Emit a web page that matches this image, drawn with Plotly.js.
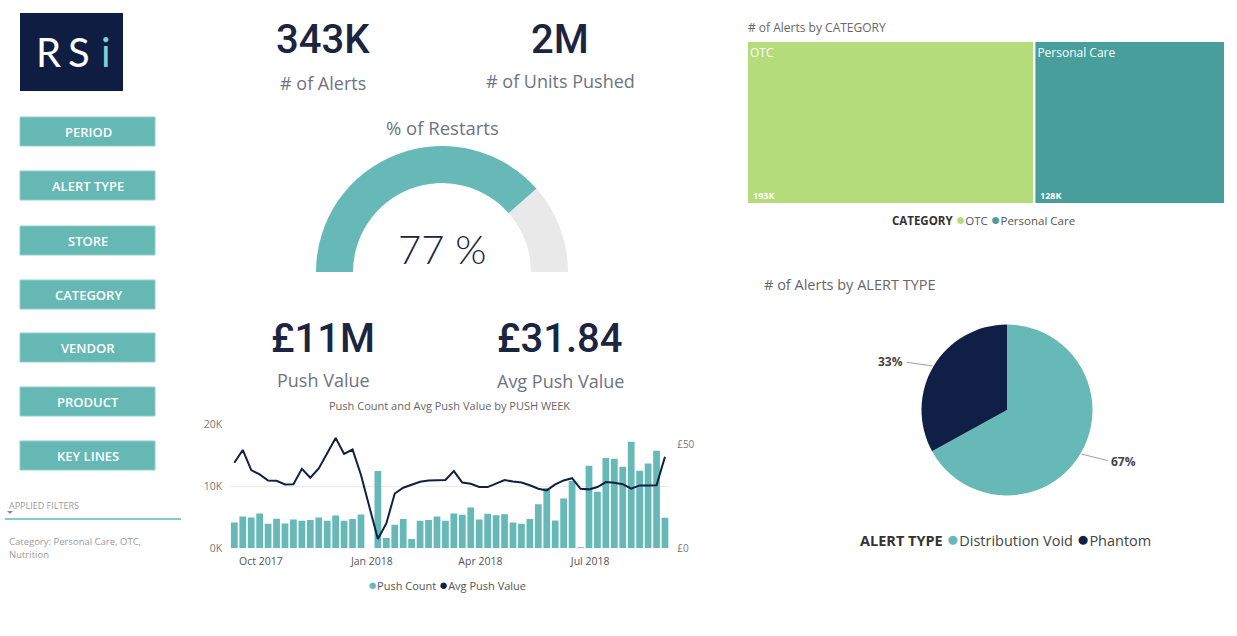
<!DOCTYPE html>
<html><head><meta charset="utf-8">
<script src="https://cdn.plot.ly/plotly-3.0.1.min.js"></script>
<style>html,body{margin:0;padding:0;background:#fff;}#chart{width:1237px;height:636px;}</style>
</head><body><div id="chart"></div>
<script>
// ---------- DATA ----------
const weeks = ['2017-09-09','2017-09-16','2017-09-23','2017-09-30','2017-10-07','2017-10-14','2017-10-21','2017-10-28',
 '2017-11-04','2017-11-11','2017-11-18','2017-11-25','2017-12-02','2017-12-09','2017-12-16','2017-12-23','2017-12-30',
 '2018-01-06','2018-01-13','2018-01-20','2018-01-27','2018-02-03','2018-02-10','2018-02-17','2018-02-24',
 '2018-03-03','2018-03-10','2018-03-17','2018-03-24','2018-03-31','2018-04-07','2018-04-14','2018-04-21','2018-04-28',
 '2018-05-05','2018-05-12','2018-05-19','2018-05-26','2018-06-02','2018-06-09','2018-06-16','2018-06-23','2018-06-30',
 '2018-07-07','2018-07-14','2018-07-21','2018-07-28','2018-08-04','2018-08-11','2018-08-18','2018-08-25','2018-09-01'];
const pushCount = [4170,5130,4970,5610,3960,4760,4010,4650,4440,4550,4970,4440,5290,4440,4710,5450,0,12460,1660,3800,
 4710,1500,4440,4550,5130,4440,5610,5400,6580,4650,5560,5350,5510,4170,3960,4710,7110,9730,4490,8020,
 10860,160,13320,9140,14550,14440,13160,17170,12510,13690,15720,4920];
const avgPushValue = [41.2,47.4,37.7,35.6,32.7,32.5,30.8,30.9,38.3,34.0,38.5,45.7,53.2,45.5,47.6,35.3,null,4.5,12.0,26.4,
 29.2,30.6,32.1,32.7,32.7,32.9,37.2,31.7,31.1,29.6,29.5,31.1,32.9,32.2,31.7,30.4,28.7,27.9,30.8,32.7,
 33.8,28.7,28.4,29.5,31.9,31.6,30.9,28.7,30.3,30.3,30.4,44.1];
const xTickVals = ['2017-10-01','2018-01-01','2018-04-01','2018-07-01'];
const xTickText = ['Oct 2017','Jan 2018','Apr 2018','Jul 2018'];
const yTickVals = [0,10000,20000];
const yTickText = ['0K','10K','20K'];
const y2TickVals = [0,50];
const y2TickText = ['£0','£50'];

const categories = ['OTC','Personal Care'];
const categoryAlerts = [193000,128000];
const categoryLabels = ['193K','128K'];

const alertTypes = ['Distribution Void','Phantom'];
const alertTypeShare = [67,33];

const restartPct = 77;
const kpiValues = ['343K','2M','£11M','£31.84'];
const kpiLabels = ['# of Alerts','# of Units Pushed','Push Value','Avg Push Value'];
const buttons = ['PERIOD','ALERT TYPE','STORE','CATEGORY','VENDOR','PRODUCT','KEY LINES'];
const filterText = ['Category: Personal Care, OTC,','Nutrition'];

// ---------- HELPERS ----------
const W = 1237, H = 636;
const X = p => p / W;
const Y = p => 1 - p / H;
const TEAL = '#66b9b6', NAVY = '#0f1f45', GREEN = '#b5dc7a', PC = '#479e9b';
const SANS = 'Open Sans, Noto Sans, sans-serif';
const KPI = 'Roboto, sans-serif';

const annotations = [];
const shapes = [];
function txt(text, x, y, size, color, opts) {
  annotations.push(Object.assign({
    text: text, x: X(x), y: Y(y), xref: 'paper', yref: 'paper', showarrow: false,
    xanchor: 'center', yanchor: 'middle', font: {size: size, color: color, family: SANS}
  }, opts || {}));
}
function rect(x0, y0, x1, y1, fill, line) {
  shapes.push({type: 'rect', xref: 'paper', yref: 'paper', x0: X(x0), x1: X(x1), y0: Y(y1), y1: Y(y0),
    fillcolor: fill, line: line || {width: 0}, layer: 'below'});
}

// Logo
rect(20, 13, 123, 91, '#0f1d42');
const logoFont = (c) => ({size: 40, color: c, family: 'Lato, sans-serif', weight: 400});
txt('R', 48, 52, 40, '#fff', {font: logoFont('#ffffff')});
txt('S', 79, 52, 40, '#fff', {font: logoFont('#ffffff')});
txt('i', 106, 52, 40, '#7fd0cf', {font: logoFont('#7fd0cf')});

// Buttons
const btnTops = [117, 171, 226, 280, 333, 387, 441];
buttons.forEach((b, i) => {
  rect(20, btnTops[i], 155, btnTops[i] + 29, '#66b8b5', {width: 1, color: '#8fcfcc'});
  txt(b, 88, btnTops[i] + 14.5, 13, '#ffffff', {font: {size: 13, color: '#ffffff', family: SANS, weight: 600}});
});

// Applied filters
txt('APPLIED FILTERS', 7, 505, 9, '#9a9a9a', {xanchor: 'left'});
shapes.push({type: 'path', xref: 'paper', yref: 'paper',
  path: 'M ' + X(7) + ' ' + Y(511) + ' L ' + X(13) + ' ' + Y(511) + ' L ' + X(10) + ' ' + Y(514) + ' Z',
  fillcolor: '#8a8a8a', line: {width: 0}});
shapes.push({type: 'line', xref: 'paper', yref: 'paper', x0: X(5), x1: X(181), y0: Y(519), y1: Y(519), line: {color: '#86cbc7', width: 2}});
txt(filterText[0], 7, 541, 9.5, '#9a9a9a', {xanchor: 'left'});
txt(filterText[1], 7, 554, 9.5, '#9a9a9a', {xanchor: 'left'});

// KPI cards
const kpiPos = [[323, 40, 83], [560, 40, 81], [323, 338, 380], [560, 338, 381]];
kpiValues.forEach((v, i) => {
  txt(v, kpiPos[i][0], kpiPos[i][1], 40, '#1b2440', {font: {size: 40, color: '#1b2440', family: KPI, weight: 500}});
  txt(kpiLabels[i], kpiPos[i][0], kpiPos[i][2], 18, '#6f7382');
});
txt('% of Restarts', 442, 128, 18.5, '#6f7382');
txt(restartPct + ' %', 442, 249, 40, '#1b2440', {font: {size: 40, color: '#1b2440', family: 'Lato, sans-serif', weight: 300}});

// Combo chart title and legend
txt('Push Count and Avg Push Value by PUSH WEEK', 449, 405, 11, '#666666');
txt('<span style="color:' + TEAL + ';font-size:15px">●</span>Push Count <span style="color:' + NAVY + ';font-size:15px">●</span>Avg Push Value', 447, 584, 11, '#555555');

// Treemap title / legend
txt('# of Alerts by CATEGORY', 746, 28, 12, '#666666', {xanchor: 'left'});
txt('<b style="color:#333">CATEGORY</b> <span style="color:' + GREEN + ';font-size:16px">●</span>' + categories[0] +
    ' <span style="color:' + PC + ';font-size:16px">●</span>' + categories[1], 983, 219, 11.5, '#555555');

// Pie title / legend
txt('# of Alerts by ALERT TYPE', 762, 284, 14.5, '#666666', {xanchor: 'left'});
txt('<b style="color:#333">ALERT TYPE</b> <span style="color:' + TEAL + ';font-size:21px">●</span>' + alertTypes[0] +
    ' <span style="color:' + NAVY + ';font-size:21px">●</span>' + alertTypes[1], 1005, 538, 14.5, '#444444');

// ---------- TRACES ----------
const traces = [];
// combo chart
traces.push({type: 'bar', x: weeks, y: pushCount, name: 'Push Count', marker: {color: TEAL}, xaxis: 'x', yaxis: 'y'});
traces.push({type: 'scatter', mode: 'lines', x: weeks, y: avgPushValue, name: 'Avg Push Value', connectgaps: true,
  line: {color: NAVY, width: 2}, xaxis: 'x', yaxis: 'y2'});

// gauge (half donut)
traces.push({type: 'pie', values: [restartPct, 100 - restartPct, 100], sort: false, direction: 'clockwise', rotation: -90,
  hole: 0.706, marker: {colors: [TEAL, '#e9e9e9', 'rgba(0,0,0,0)'], line: {width: 0}}, textinfo: 'none', hoverinfo: 'skip',
  domain: {x: [X(316), X(568)], y: [Y(398), Y(146)]}});

// treemap
const tmX0 = 747, tmX1 = 1225, tmY0 = 41, tmY1 = 204;
traces.push({type: 'treemap', labels: categories, parents: ['', ''], values: categoryAlerts,
  marker: {colors: [GREEN, PC], line: {color: '#ffffff', width: 2}, pad: {t: 0, l: 0, r: 0, b: 0}},
  tiling: {packing: 'dice', pad: 0}, pathbar: {visible: false},
  texttemplate: '%{label}', textposition: 'top left', textfont: {color: '#ffffff', size: 12, family: SANS},
  hoverinfo: 'skip', domain: {x: [X(tmX0), X(tmX1)], y: [Y(tmY1), Y(tmY0)]}});
// treemap value labels computed from data
const totalAlerts = categoryAlerts.reduce((a, b) => a + b, 0);
let acc = 0;
categoryAlerts.forEach((v, i) => {
  const x0 = tmX0 + (tmX1 - tmX0) * acc / totalAlerts;
  txt('<b>' + categoryLabels[i] + '</b>', x0 + 4, tmY1 - 8, 9, '#ffffff', {xanchor: 'left'});
  acc += v;
});

// pie
const pcx = 1007, pcy = 410, pr = 85.5;
traces.push({type: 'pie', labels: alertTypes, values: alertTypeShare, sort: false, direction: 'clockwise', rotation: 0,
  marker: {colors: [TEAL, NAVY], line: {width: 0}}, textinfo: 'none', hoverinfo: 'skip',
  domain: {x: [X(pcx - pr), X(pcx + pr)], y: [Y(pcy + pr), Y(pcy - pr)]}});
// outside labels with leader lines, positioned from slice mid angles
const shareTotal = alertTypeShare.reduce((a, b) => a + b, 0);
let cum = 0;
alertTypeShare.forEach((v, i) => {
  const mid = (cum + v / 2) / shareTotal * 2 * Math.PI;
  cum += v;
  const ex = pcx + (pr + 1) * Math.sin(mid), ey = pcy - (pr + 1) * Math.cos(mid);
  const side = Math.sin(mid) >= 0 ? 1 : -1;
  annotations.push({text: '<b>' + v + '%</b>', x: X(ex), y: Y(ey), xref: 'paper', yref: 'paper', showarrow: true,
    arrowhead: 0, arrowwidth: 1, arrowcolor: '#a0a0a0', ax: side * 28, ay: side > 0 ? 7 : -4,
    xanchor: side > 0 ? 'left' : 'right', standoff: 0, startstandoff: 2,
    font: {size: 12, color: '#444', family: SANS}});
});

// ---------- LAYOUT ----------
const days = 1000 * 3600 * 24;
const layout = {
  width: W, height: H, margin: {l: 0, r: 0, t: 0, b: 0}, paper_bgcolor: '#ffffff', plot_bgcolor: 'rgba(0,0,0,0)',
  showlegend: false, hovermode: false, bargap: 0.2,
  xaxis: {domain: [X(230.1), X(669.2)], type: 'date',
    range: [new Date(Date.parse(weeks[0]) - 3.5 * days).toISOString(), new Date(Date.parse(weeks[weeks.length - 1]) + 3.5 * days).toISOString()],
    tickvals: xTickVals, ticktext: xTickText, showgrid: false, zeroline: false, showline: false, ticks: '',
    ticklabelstandoff: 5, tickfont: {size: 10.5, color: '#555', family: SANS}, anchor: 'y'},
  yaxis: {domain: [Y(548.3), Y(424.3)], range: [0, 20000], tickvals: yTickVals, ticktext: yTickText,
    ticklabelstandoff: 7, gridcolor: '#ececec', zeroline: false, showline: false, tickfont: {size: 10.5, color: '#777', family: SANS}, anchor: 'x'},
  yaxis2: {overlaying: 'y', side: 'right', range: [0, 59.76], tickvals: y2TickVals, ticktext: y2TickText,
    ticklabelstandoff: 7, showgrid: false, zeroline: false, showline: false, tickfont: {size: 10, color: '#777', family: SANS}, anchor: 'x'},
  annotations: annotations, shapes: shapes
};
Plotly.newPlot('chart', traces, layout, {displayModeBar: false, staticPlot: true});
</script></body></html>
